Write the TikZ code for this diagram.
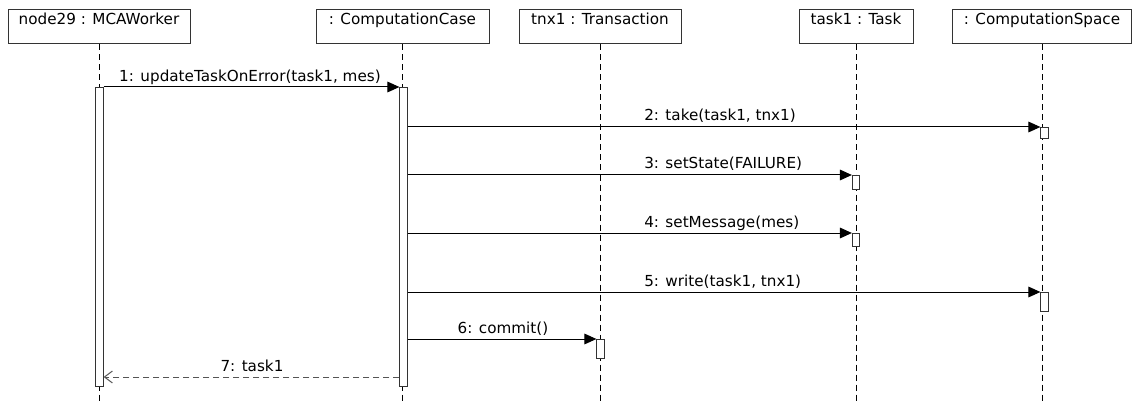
\documentclass[tikz,border=0pt]{standalone}
\usepackage{fontspec}
\setmainfont{DejaVu Sans}
\usetikzlibrary{arrows.meta}
\definecolor{edge}{HTML}{333333}
\definecolor{ret}{HTML}{555555}
\begin{document}
\begin{tikzpicture}[x=0.75pt,y=-0.75pt,
  every node/.style={font=\fontsize{11.4pt}{13pt}\selectfont},
  headbox/.style={draw=edge, line width=0.75pt, fill=white, inner sep=0pt, minimum height=25.5pt},
  headtext/.style={anchor=base, yshift=-11.25pt, inner sep=0pt},
  life/.style={draw=black, line width=0.75pt, dash pattern=on 4.5pt off 3pt},
  actbar/.style={draw=edge, line width=0.75pt, fill=white, inner sep=0pt, minimum width=5.4pt, anchor=north},
  msg/.style={draw=black, line width=0.75pt, -{Triangle[length=9pt,width=8pt]}},
  retmsg/.style={draw=ret, line width=0.75pt, dash pattern=on 4.5pt off 3pt, -{Straight Barb[length=6pt,width=9pt]}},
  lbl/.style={anchor=base, inner sep=0pt},
  lblw/.style={anchor=base west, inner sep=0pt}
]
\useasboundingbox (0,0) rectangle (1133,403);
% heads
\node[headbox, minimum width=136.5pt, label={[headtext]north:node29 : MCAWorker}] (h1) at (99,27) {};
\node[headbox, minimum width=129.75pt, label={[headtext]north:: ComputationCase}] (h2) at (402.5,27) {};
\node[headbox, minimum width=121.5pt, label={[headtext]north:tnx1 : Transaction}] (h3) at (600,27) {};
\node[headbox, minimum width=85.5pt, label={[headtext]north:task1 : Task}] (h4) at (856,27) {};
\node[headbox, minimum width=134.25pt, label={[headtext]north:: ComputationSpace}] (h5) at (1042,27) {};
% bottoms of lifelines
\coordinate (bot) at (0,403);
\draw[life] (h1.south) -- (h1.south |- bot);
\draw[life] (h2.south) -- (h2.south |- bot);
\draw[life] (h3.south) -- (h3.south |- bot);
\draw[life] (h4.south) -- (h4.south |- bot);
\draw[life] (h5.south) -- (h5.south |- bot);
% activation bars
\node[actbar, minimum height=224.25pt] (b1) at (99.5,87) {};
\node[actbar, minimum height=224.25pt] (b2) at (403.5,87) {};
\node[actbar, minimum height=8.25pt] (b5a) at (1044.5,127) {};
\node[actbar, minimum height=10.5pt] (b4a) at (856,175) {};
\node[actbar, minimum height=9.75pt] (b4b) at (856,233) {};
\node[actbar, minimum height=14pt] (b5b) at (1044.5,292) {};
\node[actbar, minimum height=14pt] (b3) at (600.5,339) {};
% messages
\draw[msg] (b1.north east) -- (b2.north west);
\node[lbl] (l1) at (250,82) {1: updateTaskOnError(task1, mes)};
\draw[msg] (b2.east |- b5a.north) -- (b5a.north west);
\node[lblw] (l2) at (644,121) {2: take(task1, tnx1)};
\draw[msg] (b2.east |- b4a.north) -- (b4a.north west);
\node[lblw] (l3) at (644,169) {3: setState(FAILURE)};
\draw[msg] (b2.east |- b4b.north) -- (b4b.north west);
\node[lblw] (l4) at (644,227) {4: setMessage(mes)};
\draw[msg] (b2.east |- b5b.north) -- (b5b.north west);
\node[lblw] (l5) at (644,286) {5: write(task1, tnx1)};
\draw[msg] (b2.east |- b3.north) -- (b3.north west);
\node[lbl] (l6) at (503,333) {6: commit()};
\coordinate (r7) at (0,377);
\draw[retmsg] (b2.west |- r7) -- (b1.east |- r7);
\node[lbl] (l7) at (252,371) {7: task1};
\end{tikzpicture}
\end{document}
